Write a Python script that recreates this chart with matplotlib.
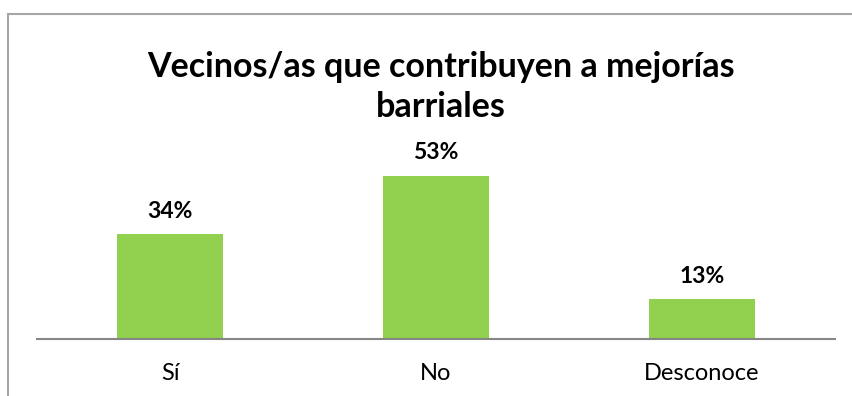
import matplotlib.pyplot as plt
from matplotlib.lines import Line2D

categories = ['Sí', 'No', 'Desconoce']
values = [34, 53, 13]
labels = ['34%', '53%', '13%']

plt.rcParams['font.family'] = ['Lato', 'DejaVu Sans']

W, H = 852, 396
fig = plt.figure(figsize=(W / 100, H / 100), dpi=100)

# outer chart border (right and bottom edges fall outside the picture)
fig.add_artist(Line2D([8 / W, 8 / W], [0, 1 - 14 / H], color='#a6a6a6', lw=1.5))
fig.add_artist(Line2D([8 / W, 1], [1 - 14 / H, 1 - 14 / H], color='#a6a6a6', lw=1.5))

ax = fig.add_axes([37 / W, 57 / H, 798 / W, 189 / H])
x = range(len(categories))
ax.bar(x, values, width=0.395, color='#92D050')
ax.set_xlim(-0.5, 2.5)
ax.set_ylim(0, 189 / 3.08)

for xi, v, lab in zip(x, values, labels):
    ax.text(xi, v + 4, lab, ha='center', va='bottom', fontsize=16.5, fontweight='bold')

ax.set_xticks(list(x))
ax.set_xticklabels(categories, fontsize=17)
ax.tick_params(axis='x', length=0, pad=17)
ax.set_yticks([])
for s in ['top', 'right', 'left']:
    ax.spines[s].set_visible(False)
ax.spines['bottom'].set_color('#868686')
ax.spines['bottom'].set_linewidth(1.5)

fig.text(441 / W, 1 - 87 / H, 'Vecinos/as que contribuyen a mejorías\nbarriales',
         ha='center', va='center', fontsize=24.5, fontweight='bold', linespacing=1.3)

fig.savefig('out.png', dpi=100)
